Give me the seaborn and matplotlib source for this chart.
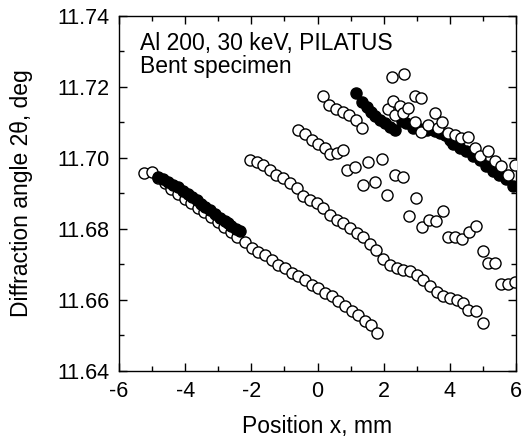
import matplotlib
matplotlib.use("Agg")
import matplotlib.pyplot as plt
from matplotlib.ticker import MultipleLocator
import seaborn as sns
import pandas as pd

# ---- data ----
a_x = [-5.24, -5.01, -4.82, -4.62, -4.42, -4.22, -4.02, -3.82, -3.62, -3.42, -3.22, -3.02,
       -2.82, -2.62, -2.44, -2.19, -1.99, -1.79, -1.59, -1.39, -1.19, -0.98, -0.78, -0.58,
       -0.38, -0.18, 0.02, 0.22, 0.43, 0.63, 0.83, 1.03, 1.23, 1.43, 1.63, 1.79]
a_y = [11.6956, 11.6960, 11.6942, 11.6928, 11.6913, 11.6899, 11.6885, 11.6872, 11.6860, 11.6847,
       11.6833, 11.6818, 11.6806, 11.6792, 11.6778, 11.6764, 11.6746, 11.6736, 11.6727, 11.6713,
       11.6699, 11.6689, 11.6675, 11.6666, 11.6657, 11.6642, 11.6633, 11.6619, 11.6610, 11.6596,
       11.6582, 11.6568, 11.6558, 11.6540, 11.6530, 11.6507]

f1_x = [-4.81, -4.66, -4.51, -4.36, -4.21, -4.06, -3.91, -3.78, -3.65, -3.52, -3.40, -3.25,
        -3.10, -2.95, -2.80, -2.70, -2.60, -2.47, -2.34]
f1_y = [11.6946, 11.6941, 11.6932, 11.6924, 11.6918, 11.6907, 11.6899, 11.6891, 11.6880, 11.6870,
        11.6861, 11.6852, 11.6842, 11.6831, 11.6823, 11.6817, 11.6809, 11.6801, 11.6795]

b_x = [-2.04, -1.84, -1.64, -1.44, -1.24, -1.04, -0.83, -0.63, -0.43, -0.23, -0.03, 0.17,
       0.37, 0.58, 0.78, 0.98, 1.18, 1.38, 1.58, 1.78, 1.98, 2.19, 2.40, 2.58, 2.79, 3.00,
       3.18, 3.40, 3.60, 3.79, 4.00, 4.21, 4.39, 4.54, 4.79, 5.00]
b_y = [11.6994, 11.6989, 11.6981, 11.6965, 11.6951, 11.6942, 11.6928, 11.6914, 11.6892, 11.6881,
       11.6872, 11.6858, 11.6839, 11.6825, 11.6816, 11.6802, 11.6788, 11.6778, 11.6757, 11.6740,
       11.6715, 11.6698, 11.6690, 11.6684, 11.6680, 11.6670, 11.6656, 11.6639, 11.6622, 11.6611,
       11.6605, 11.6600, 11.6590, 11.6572, 11.6570, 11.6535]

c_x = [0.17, 0.35, 0.56, 0.76, 0.96, 1.16, 1.36]
c_y = [11.7174, 11.7148, 11.7139, 11.7130, 11.7120, 11.7106, 11.7085]

d_x = [-0.58, -0.38, -0.18, 0.02, 0.22, 0.37, 0.58, 0.76]
d_y = [11.7078, 11.7066, 11.7050, 11.7040, 11.7028, 11.7012, 11.7015, 11.7022]

e_x = [0.88, 1.13, 1.53, 1.96, 1.38, 1.73, 2.09, 2.34, 2.57, 2.97, 2.77, 3.17, 3.37, 3.57,
       3.78, 3.95, 4.15, 4.38, 4.58, 4.79, 4.99, 5.16, 5.36, 5.56, 5.76, 5.96]
e_y = [11.6966, 11.6975, 11.6989, 11.6998, 11.6923, 11.6933, 11.6895, 11.6953, 11.6947, 11.6886,
       11.6837, 11.6804, 11.6825, 11.6822, 11.6850, 11.6778, 11.6776, 11.6772, 11.6790, 11.6809,
       11.6738, 11.6703, 11.6703, 11.6644, 11.6644, 11.6650]

g_x = [1.16, 1.36, 1.50, 1.62, 1.73, 1.88, 2.04, 2.19, 2.34, 2.54, 2.69, 2.89, 3.10, 3.30,
       3.55, 3.70, 3.85, 4.00, 4.10, 4.30, 4.50, 4.70, 4.90, 5.10, 5.30, 5.50, 5.70, 5.90]
g_y = [11.7184, 11.7158, 11.7144, 11.7130, 11.7118, 11.7106, 11.7097, 11.7087, 11.7079, 11.7103,
       11.7098, 11.7084, 11.7080, 11.7078, 11.7075, 11.7070, 11.7065, 11.7050, 11.7038, 11.7029,
       11.7020, 11.7005, 11.6995, 11.6977, 11.6963, 11.6953, 11.6940, 11.6921]

h_x = [2.25, 2.61, 2.13, 2.29, 2.34, 2.49, 2.59, 2.74, 2.94, 3.14, 2.94, 3.14, 3.34, 3.55,
       3.65, 3.75, 3.95, 4.15, 4.35, 4.55, 4.75, 4.91, 5.16, 5.36, 5.56, 5.76, 5.96]
h_y = [11.7229, 11.7237, 11.7137, 11.7159, 11.7121, 11.7145, 11.7126, 11.7140, 11.7173, 11.7168,
       11.7102, 11.7074, 11.7093, 11.7126, 11.7084, 11.7102, 11.7070, 11.7065, 11.7055, 11.7060,
       11.7027, 11.7004, 11.7018, 11.6990, 11.6976, 11.6952, 11.6980]

x_ticks = [-6, -4, -2, 0, 2, 4, 6]
y_ticks = [11.64, 11.66, 11.68, 11.70, 11.72, 11.74]

# ---- plotting ----
sns.set_style("ticks")
plt.rcParams["font.family"] = ["Liberation Sans", "DejaVu Sans"]
plt.rcParams["text.color"] = "black"
plt.rcParams["axes.labelcolor"] = "black"

fig = plt.figure(figsize=(5.22, 4.41), dpi=100)
ax = fig.add_axes([0.228, 0.159, 0.7605, 0.805])

MS = 64
LW = 1.0

def draw(xs, ys, filled, z):
    df = pd.DataFrame({"x": xs, "y": ys})
    sns.scatterplot(data=df, x="x", y="y", ax=ax, s=MS, marker="o",
                    color="black" if filled else "white", edgecolor="black",
                    linewidth=LW, zorder=z, legend=False)

draw(a_x, a_y, False, 2)
draw(f1_x, f1_y, True, 3)
draw(b_x, b_y, False, 2)
draw(c_x, c_y, False, 2)
draw(d_x, d_y, False, 2)
draw(e_x, e_y, False, 2)
draw(g_x, g_y, True, 3)
draw(h_x, h_y, False, 4)

ax.set_xlim(-6, 6)
ax.set_ylim(11.64, 11.74)
ax.set_xticks(x_ticks)
ax.set_xticklabels([str(t) for t in x_ticks])
ax.set_yticks(y_ticks)
ax.set_yticklabels([f"{t:.2f}" for t in y_ticks])
ax.xaxis.set_minor_locator(MultipleLocator(1))
ax.yaxis.set_minor_locator(MultipleLocator(0.01))
ax.tick_params(which="both", direction="in", top=True, right=True, width=1, labelsize=15.5,
               colors="black")
ax.tick_params(which="major", length=6, pad=7)
ax.tick_params(which="minor", length=3.5)
for sp in ax.spines.values():
    sp.set_linewidth(1.0)
    sp.set_color("black")

ax.set_xlabel("Position x, mm", fontsize=16.5, labelpad=10, color="black")
ax.set_ylabel("Diffraction angle 2θ, deg", fontsize=16.5, labelpad=17, color="black")

ax.text(0.053, 0.955, "Al 200, 30 keV, PILATUS\nBent specimen", transform=ax.transAxes,
        ha="left", va="top", fontsize=16.5, linespacing=1.0, color="black")

fig.savefig("out.png", dpi=100)
